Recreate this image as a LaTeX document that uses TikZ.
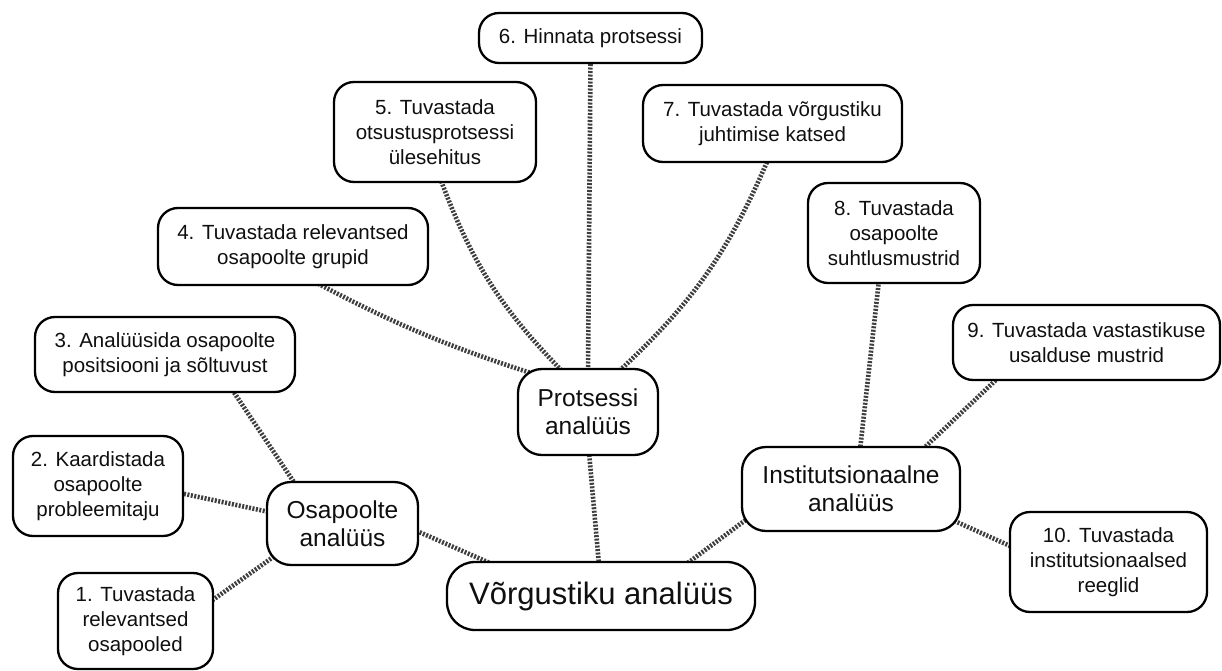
\documentclass[tikz,border=0pt]{standalone}
\usepackage{fontspec}
\setmainfont{Liberation Sans}
\usetikzlibrary{backgrounds,calc}
\definecolor{conncol}{RGB}{62,62,62}
\definecolor{txtcol}{RGB}{15,15,15}
\tikzset{
  box/.style={draw=black, line width=2.3pt, fill=white, rounded corners=20pt,
    align=center, inner sep=0pt, text=txtcol,
    font={\fontsize{20.5}{25}\selectfont}},
  midbox/.style={box, font={\fontsize{24.5}{28}\selectfont}, rounded corners=24pt},
  bigbox/.style={box, font={\fontsize{31}{36}\selectfont}, rounded corners=28pt},
  conn/.style={draw=conncol, line width=4.6pt, dash pattern=on 2pt off 1.5pt}
}
\begin{document}
\begin{tikzpicture}[x=1pt,y=-1pt]
\useasboundingbox (0,0) rectangle (1222,671);
% nodes
\node[bigbox, minimum width=308pt, minimum height=68pt] (v) at (601,596) {Võrgustiku analüüs};
\node[midbox, minimum width=140pt, minimum height=86pt] (p) at (588,412) {Protsessi\\analüüs};
\node[midbox, minimum width=151pt, minimum height=83pt] (o) at (342.5,523.5) {Osapoolte\\analüüs};
\node[midbox, minimum width=218pt, minimum height=84pt] (i) at (851,489) {Institutsionaalne\\analüüs};
\node[box, minimum width=155pt, minimum height=96pt] (n1) at (135.5,621) {1. Tuvastada\\relevantsed\\osapooled};
\node[box, minimum width=170pt, minimum height=100pt] (n2) at (98,486) {2. Kaardistada\\osapoolte\\probleemitaju};
\node[box, minimum width=260pt, minimum height=75pt] (n3) at (165,354.5) {3. Analüüsida osapoolte\\positsiooni ja sõltuvust};
\node[box, minimum width=270pt, minimum height=77pt] (n4) at (293,246.5) {4. Tuvastada relevantsed\\osapoolte grupid};
\node[box, minimum width=202pt, minimum height=100pt] (n5) at (435,132) {5. Tuvastada\\otsustusprotsessi\\ülesehitus};
\node[box, minimum width=223pt, minimum height=50pt] (n6) at (590.5,38) {6. Hinnata protsessi};
\node[box, minimum width=259pt, minimum height=77pt] (n7) at (772.5,123.5) {7. Tuvastada võrgustiku\\juhtimise katsed};
\node[box, minimum width=172pt, minimum height=100pt] (n8) at (894,233) {8. Tuvastada\\osapoolte\\suhtlusmustrid};
\node[box, minimum width=267pt, minimum height=75pt] (n9) at (1086.5,342.5) {9. Tuvastada vastastikuse\\usalduse mustrid};
\node[box, minimum width=197pt, minimum height=100pt] (n10) at (1108.5,562) {10. Tuvastada\\institutsionaalsed\\reeglid};
% connectors
\begin{pgfonlayer}{background}
\fill[white] (0,0) rectangle (1222,671);
\draw[conn] ($(v)+(-109,-32)$) -- ($(o)+(71,6)$);
\draw[conn] ($(v)+(-2,-31)$) -- ($(p)+(1,40)$);
\draw[conn] ($(v)+(84,-31)$) -- ($(i)+(-100,27)$);
\draw[conn] ($(o)+(-47,-39)$) -- ($(n3)+(67,35)$);
\draw[conn] ($(o)+(-71,-11)$) -- ($(n2)+(82,7)$);
\draw[conn] ($(o)+(-63,29)$) -- ($(n1)+(73,-18)$);
\draw[conn] ($(n4)+(19,34)$) to[bend right=5] ($(p)+(-51,-37)$);
\draw[conn] ($(n5)+(5,46)$) to[bend right=12] ($(p)+(-23,-38)$);
\draw[conn] ($(p)+(0,-38)$) -- ($(n6)+(0,20)$);
\draw[conn] ($(p)+(29,-39)$) to[bend right=12] ($(n7)+(-4,35)$);
\draw[conn] ($(i)+(9,-39)$) -- ($(n8)+(-15,47)$);
\draw[conn] ($(i)+(72,-40)$) -- ($(n9)+(-89,36)$);
\draw[conn] ($(i)+(97,29)$) -- ($(n10)+(-94,-14)$);
\end{pgfonlayer}
\end{tikzpicture}
\end{document}
